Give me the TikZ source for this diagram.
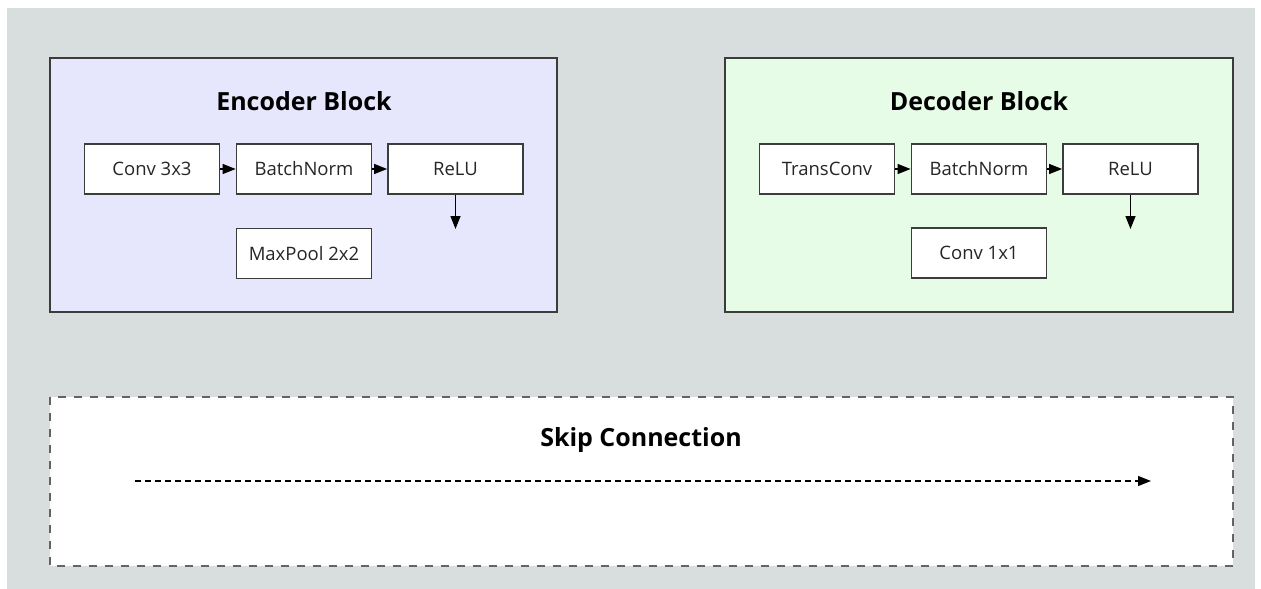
\documentclass[tikz,border=0pt]{standalone}
\usepackage{fontspec}
\setmainfont{Open Sans}
\usetikzlibrary{arrows.meta}
\definecolor{canvas}{RGB}{216,222,222}
\definecolor{encfill}{RGB}{230,230,252}
\definecolor{decfill}{RGB}{230,252,230}
\definecolor{edge}{RGB}{60,60,60}
\tikzset{
  block/.style={draw=edge, line width=1.8pt},
  layer/.style={draw=edge, line width=1.8pt, fill=white, minimum width=135pt,
    minimum height=50pt, inner sep=0pt, font=\fontsize{18.5}{22}\selectfont, text=black!85},
  heading/.style={font=\fontsize{25}{30}\selectfont\bfseries, text=black},
  flow/.style={line width=1.4pt, -{Triangle[length=13pt,width=10pt]}},
  skipline/.style={line width=1.3pt, dash pattern=on 6pt off 4pt, -{Triangle[length=13pt,width=10pt]}},
}
\begin{document}
\begin{tikzpicture}[x=1pt,y=-1pt]
  % page and canvas
  \fill[white] (0,0) rectangle (1261,589);
  \fill[canvas] (7,8) rectangle (1255,589);
  \useasboundingbox (0,0) rectangle (1261,589);

  % encoder block
  \draw[block, fill=encfill] (50,58) rectangle (557,312);
  \node[heading] (enctitle) at (304,101) {Encoder Block};
  \node[layer] (conv3) at (152,169) {Conv 3x3};
  \node[layer] (encbn) at (304,169) {BatchNorm};
  \node[layer] (encrelu) at (455.5,169) {ReLU};
  \node[layer] (maxpool) at (304,253.5) {MaxPool 2x2};
  \coordinate (encdown) at (455.5,229);
  \draw[flow] (conv3) -- (encbn);
  \draw[flow] (encbn) -- (encrelu);
  \draw[flow] (encrelu.south) -- (encdown);

  % decoder block
  \draw[block, fill=decfill] (725,58) rectangle (1233,312);
  \node[heading] (dectitle) at (979,101) {Decoder Block};
  \node[layer] (transconv) at (827,169) {TransConv};
  \node[layer] (decbn) at (979,169) {BatchNorm};
  \node[layer] (decrelu) at (1130.5,169) {ReLU};
  \node[layer] (conv1) at (979,253) {Conv 1x1};
  \coordinate (decdown) at (1130.5,229);
  \draw[flow] (transconv) -- (decbn);
  \draw[flow] (decbn) -- (decrelu);
  \draw[flow] (decrelu.south) -- (decdown);

  % skip connection
  \draw[draw=edge!80, line width=1.6pt, dash pattern=on 8pt off 8pt, fill=white] (50,397) rectangle (1233,566);
  \node[heading] (skiptitle) at (641,440) {Skip Connection};
  \coordinate (skipstart) at (135,481);
  \coordinate (skipend) at (1151,481);
  \draw[skipline] (skipstart) -- (skipend);
\end{tikzpicture}
\end{document}
